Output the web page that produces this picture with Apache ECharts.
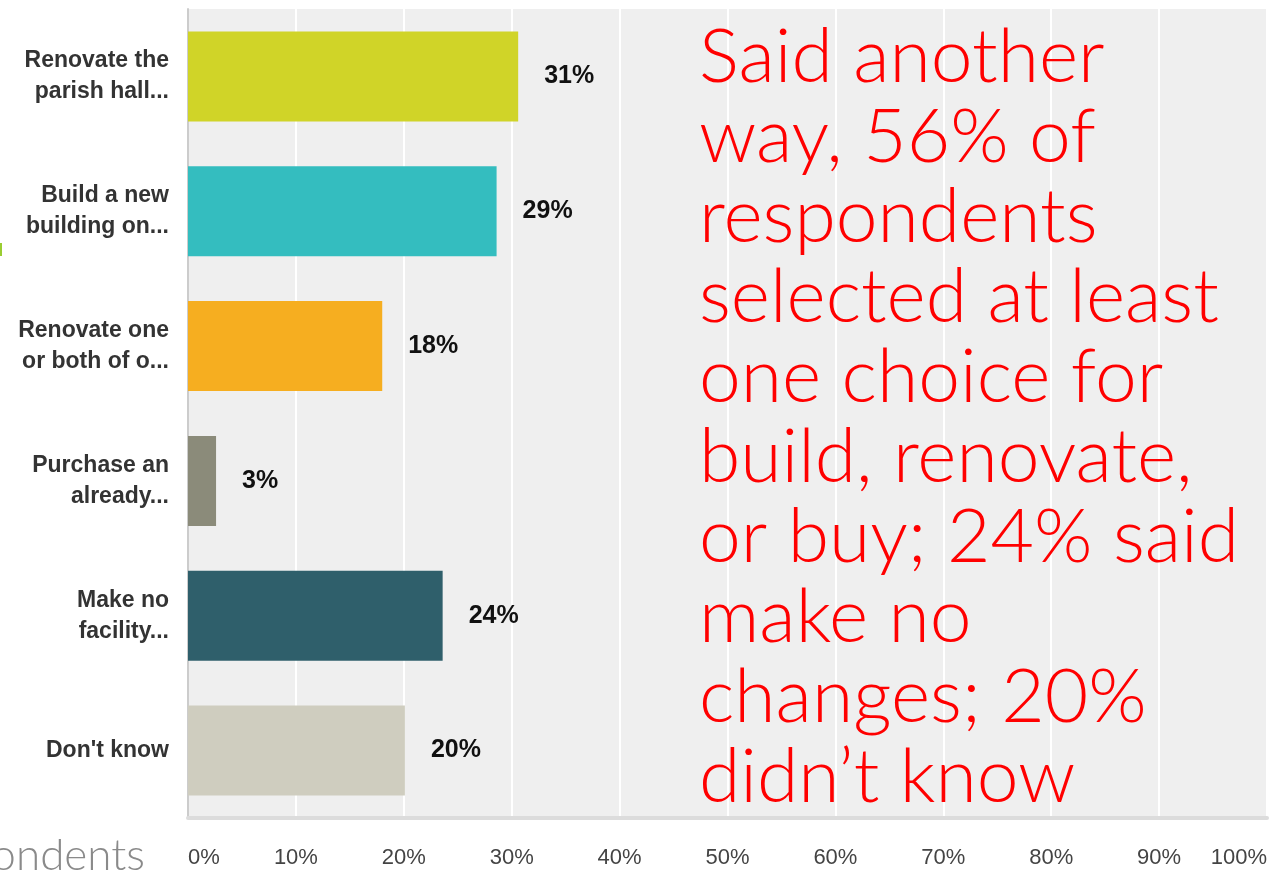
<!DOCTYPE html>
<html>
<head>
<meta charset="utf-8">
<script src="https://cdn.jsdelivr.net/npm/echarts@6/dist/echarts.min.js"></script>
<style>
  html, body { margin: 0; padding: 0; background: #ffffff; }
  #chart { width: 1272px; height: 876px; }
</style>
</head>
<body>
<div id="chart"></div>
<script>
// Survey answers (share of respondents, %)
const categories = [
  'Renovate the\nparish hall...',
  'Build a new\nbuilding on...',
  'Renovate one\nor both of o...',
  'Purchase an\nalready...',
  'Make no\nfacility...',
  "Don't know"
];
const values = [30.6, 28.6, 18.0, 2.6, 23.6, 20.1];
const barColors = ['#d0d428', '#34bdbf', '#f6ae20', '#8b8b7a', '#2f5f6b', '#cfcdbf'];
const axisTicks = [0, 10, 20, 30, 40, 50, 60, 70, 80, 90, 100];

const noteLines = [
  'Said another',
  'way, 56% of',
  'respondents',
  'selected at least',
  'one choice for',
  'build, renovate,',
  'or buy; 24% said',
  'make no',
  'changes; 20%',
  'didn\u2019t know'
];

const chart = echarts.init(document.getElementById('chart'), null, { renderer: 'canvas' });

const tickStep = axisTicks[1] - axisTicks[0];

chart.setOption({
  animation: false,
  backgroundColor: '#ffffff',
  grid: {
    left: 188, right: 5, top: 9, bottom: 58,
    show: true, backgroundColor: '#efefef', borderWidth: 0
  },
  xAxis: {
    type: 'value',
    min: axisTicks[0],
    max: axisTicks[axisTicks.length - 1],
    interval: tickStep,
    axisLine: { show: true, lineStyle: { color: '#dcdcdc', width: 4 } },
    axisTick: { show: false },
    splitLine: { show: true, lineStyle: { color: '#ffffff', width: 2 } },
    axisLabel: {
      formatter: '{value}%',
      color: '#444444',
      fontFamily: 'Liberation Sans, Arial, sans-serif',
      fontSize: 22,
      margin: 29,
      alignMinLabel: 'left',
      alignMaxLabel: 'right'
    }
  },
  yAxis: {
    type: 'category',
    inverse: true,
    data: categories,
    axisLine: { show: true, lineStyle: { color: '#cccccc', width: 2 } },
    axisTick: { show: false },
    splitLine: { show: false },
    axisLabel: {
      color: '#333333',
      fontFamily: 'Liberation Sans, Arial, sans-serif',
      fontWeight: 'bold',
      fontSize: 23,
      lineHeight: 31,
      align: 'right',
      margin: 19
    }
  },
  series: [{
    type: 'bar',
    data: values.map((v, i) => ({ value: v, itemStyle: { color: barColors[i] } })),
    barWidth: 90,
    label: {
      show: true,
      position: 'right',
      distance: 26,
      formatter: p => Math.round(p.value) + '%',
      color: '#111111',
      fontFamily: 'Liberation Sans, Arial, sans-serif',
      fontWeight: 'bold',
      fontSize: 25
    }
  }],
  graphic: [
    {
      type: 'text',
      left: 699,
      top: 18,
      z: 100,
      style: {
        text: noteLines.join('\n'),
        fill: '#ff0000',
        font: '300 75px Lato, "DejaVu Sans", sans-serif',
        lineHeight: 80
      }
    },
    {
      type: 'text',
      x: 145,
      y: 856,
      style: {
        text: 'respondents',
        fill: '#8a8a8a',
        font: '300 44px Lato, "DejaVu Sans", sans-serif',
        align: 'right',
        verticalAlign: 'middle'
      }
    },
    {
      type: 'rect',
      shape: { x: 0, y: 243, width: 2, height: 13 },
      style: { fill: '#9acd32' }
    }
  ]
});
</script>
</body>
</html>
